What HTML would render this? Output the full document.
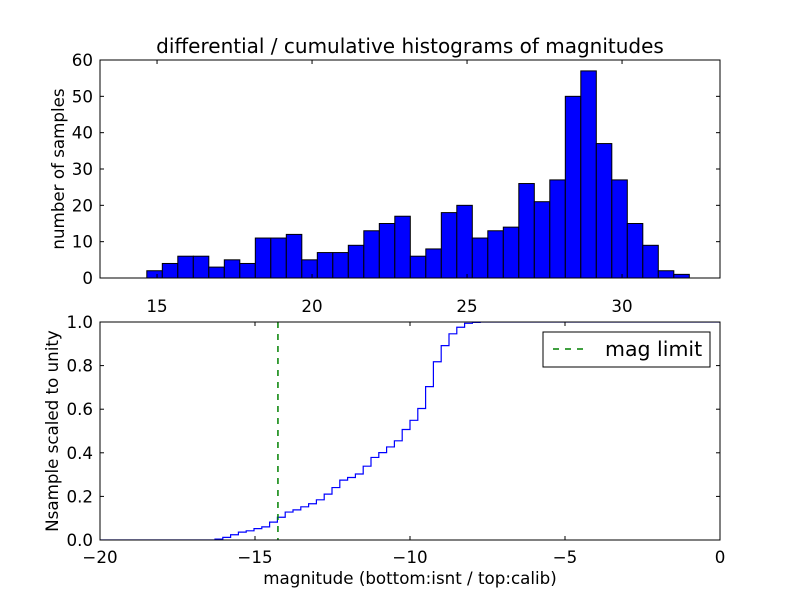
<!DOCTYPE html>
<html><head><meta charset="utf-8"><style>
body{margin:0;background:#fff;}
svg text{font-family:"DejaVu Sans","Liberation Sans",sans-serif;fill:#000;}
</style></head><body>
<svg id="c" width="800" height="600" xmlns="http://www.w3.org/2000/svg">
<rect width="800" height="600" fill="#fff"/>
<g id="topg"></g><g id="botg"></g>
</svg>
<script>
const counts=[2,4,6,6,3,5,4,11,11,12,5,7,7,9,13,15,17,6,8,18,20,11,13,14,26,21,27,50,57,37,27,15,9,2,1];
const topBinStart=14.67, topBinWidth=0.5;
const botBinStart=-16.29, botBinWidth=0.2516;
const magLimit=-14.26;
const topXTicks=[15,20,25,30];
const topYTicks=[0,10,20,30,40,50,60];
const botXTicks=[-20,-15,-10,-5,0];
const botYTicks=[0,0.2,0.4,0.6,0.8,1.0];
const NS="http://www.w3.org/2000/svg";
function mk(p,t,a){const e=document.createElementNS(NS,t);for(const k in a)e.setAttribute(k,a[k]);p.appendChild(e);return e;}
const L=100,R=720,FS=16.7;
const tx=v=>L+(v-13.16)*(R-L)/20, ty=v=>278-v*(278-60)/60;
const gTop=document.getElementById('topg');
counts.forEach((c,i)=>{const x0=tx(topBinStart+i*topBinWidth),x1=tx(topBinStart+(i+1)*topBinWidth);
const b=mk(gTop,'rect',{x:x0,y:ty(c),width:x1-x0,height:ty(0)-ty(c),fill:'#0000ff',stroke:'#000','stroke-width':1});

});
mk(gTop,'rect',{x:L,y:60,width:R-L,height:218,fill:'none',stroke:'#000','stroke-width':1});
topXTicks.forEach(v=>{const x=tx(v);mk(gTop,'line',{x1:x,x2:x,y1:278,y2:274,stroke:'#000'});mk(gTop,'line',{x1:x,x2:x,y1:60,y2:64,stroke:'#000'});
const t=mk(gTop,'text',{x:x,y:312,'text-anchor':'middle','font-size':FS});t.textContent=v;

});
topYTicks.forEach(v=>{const y=ty(v);mk(gTop,'line',{x1:L,x2:L+4,y1:y,y2:y,stroke:'#000'});mk(gTop,'line',{x1:R,x2:R-4,y1:y,y2:y,stroke:'#000'});
const t=mk(gTop,'text',{x:93,y:y+6,'text-anchor':'end','font-size':FS});t.textContent=v;

});
let t=mk(gTop,'text',{x:410,y:53,'text-anchor':'middle','font-size':20});t.textContent='differential / cumulative histograms of magnitudes';


t=mk(gTop,'text',{x:0,y:0,'text-anchor':'middle','font-size':FS,transform:'translate(64,169) rotate(-90)'});t.textContent='number of samples';


const bx=v=>L+(v+20)*(R-L)/20, by=v=>540-v*218;
const gBot=document.getElementById('botg');
const total=counts.reduce((a,b)=>a+b,0);
let cum=0;let d=`M${bx(-20)},${by(0)} L${bx(botBinStart)},${by(0)}`;
counts.forEach((c,i)=>{cum+=c;const f=cum/total;d+=` L${bx(botBinStart+i*botBinWidth)},${by(f)} L${bx(botBinStart+(i+1)*botBinWidth)},${by(f)}`;});
d+=` L${bx(0)},${by(1)}`;
const clip=mk(gBot,'clipPath',{id:'cb'});mk(clip,'rect',{x:L,y:322,width:R-L,height:218});
const p=mk(gBot,'path',{d:d,fill:'none',stroke:'#0000ff','stroke-width':1.2,'clip-path':'url(#cb)'});


const ml=mk(gBot,'line',{x1:bx(magLimit),x2:bx(magLimit),y1:322,y2:540,stroke:'#008000','stroke-width':1.5,'stroke-dasharray':'6,6'});


mk(gBot,'rect',{x:L,y:322,width:R-L,height:218,fill:'none',stroke:'#000','stroke-width':1});
botXTicks.forEach(v=>{const x=bx(v);mk(gBot,'line',{x1:x,x2:x,y1:540,y2:536,stroke:'#000'});mk(gBot,'line',{x1:x,x2:x,y1:322,y2:326,stroke:'#000'});
const t=mk(gBot,'text',{x:x,y:563,'text-anchor':'middle','font-size':FS});t.textContent=v===0?'0':'\u2212'+Math.abs(v);

});
botYTicks.forEach(v=>{const y=by(v);mk(gBot,'line',{x1:L,x2:L+4,y1:y,y2:y,stroke:'#000'});mk(gBot,'line',{x1:R,x2:R-4,y1:y,y2:y,stroke:'#000'});
const t=mk(gBot,'text',{x:93,y:y+6,'text-anchor':'end','font-size':FS});t.textContent=v.toFixed(1);

});
t=mk(gBot,'text',{x:410,y:584,'text-anchor':'middle','font-size':FS});t.textContent='magnitude (bottom:isnt / top:calib)';


t=mk(gBot,'text',{x:0,y:0,'text-anchor':'middle','font-size':FS,transform:'translate(58,431) rotate(-90)'});t.textContent='Nsample scaled to unity';


const lg=mk(gBot,'g',{});


mk(lg,'rect',{x:543,y:332,width:167,height:35,fill:'#fff',stroke:'#000'});
mk(lg,'line',{x1:553,x2:585,y1:349,y2:349,stroke:'#008000','stroke-width':1.5,'stroke-dasharray':'6,6'});
t=mk(lg,'text',{x:605,y:356,'font-size':20.5});t.textContent='mag limit';


</script>
</body></html>
